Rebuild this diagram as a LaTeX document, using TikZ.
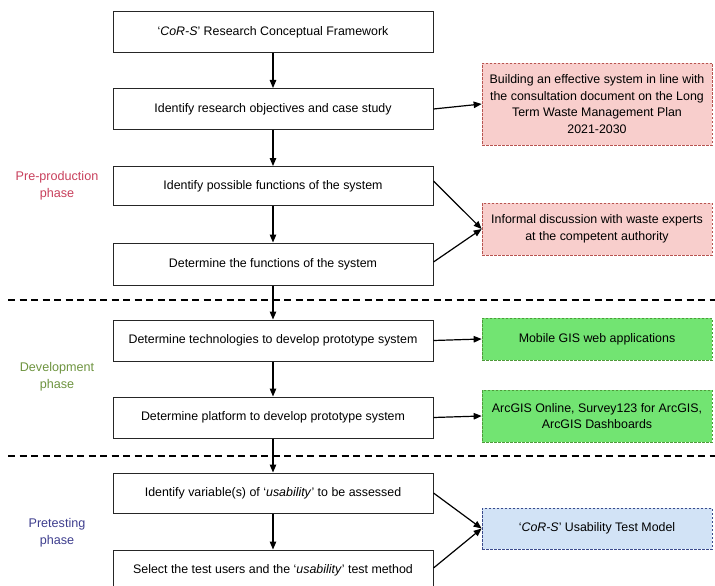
\documentclass[tikz,border=0pt]{standalone}
\usepackage{fontspec}
\setmainfont{Liberation Sans}
\usetikzlibrary{arrows.meta}
\definecolor{pinkfill}{HTML}{F8CECC}
\definecolor{pinkline}{HTML}{B85450}
\definecolor{greenfill}{HTML}{72E472}
\definecolor{greenline}{HTML}{4E9A3A}
\definecolor{bluefill}{HTML}{D2E3F6}
\definecolor{blueline}{HTML}{3A4A8C}
\definecolor{prephase}{HTML}{C8405C}
\definecolor{devphase}{HTML}{6E9440}
\definecolor{testphase}{HTML}{3E3E8E}
\tikzset{
  stepbox/.style={draw=black!85, line width=1pt, minimum width=320pt, minimum height=41pt,
    inner sep=0pt, font=\fontsize{12.4}{15}\selectfont},
  notebox/.style={dashed, dash pattern=on 2.5pt off 1.5pt, line width=0.7pt, minimum width=230pt,
    inner sep=0pt, align=center, font=\fontsize{12.4}{16.5}\selectfont},
  pinknote/.style={notebox, draw=pinkline, fill=pinkfill},
  greennote/.style={notebox, draw=greenline, fill=greenfill},
  bluenote/.style={notebox, draw=blueline, fill=bluefill},
  phaselabel/.style={align=center, font=\fontsize{12.6}{17}\selectfont},
  flow/.style={line width=1.2pt, -{Triangle[length=8pt,width=6.5pt]}},
  divider/.style={line width=1.3pt, dash pattern=on 7pt off 4.5pt}
}
\begin{document}
\begin{tikzpicture}[x=1pt, y=-1pt]
\useasboundingbox (0,0) rectangle (715,586);
\clip (0,0) rectangle (715,586);

% main sequence of steps
\node[stepbox] (b1) at (273,32.5) {‘\textit{CoR-S}’ Research Conceptual Framework};
\node[stepbox] (b2) at (273,109) {Identify research objectives and case study};
\node[stepbox, minimum height=39pt] (b3) at (273,186) {Identify possible functions of the system};
\node[stepbox, minimum height=42pt] (b4) at (273,264) {Determine the functions of the system};
\node[stepbox] (b5) at (273,340.5) {Determine technologies to develop prototype system};
\node[stepbox] (b6) at (273,417.5) {Determine platform to develop prototype system};
\node[stepbox, minimum height=40pt] (b7) at (273,493) {Identify variable(s) of ‘\textit{usability}’ to be assessed};
\node[stepbox, minimum height=40pt, text depth=0pt] (b8) at (273,570) {\raisebox{2pt}{Select the test users and the ‘\textit{usability}’ test method}};

% side notes
\node[pinknote, minimum height=82pt] (p1) at (597,104)
  {Building an effective system in line with\\the consultation document on the Long\\Term Waste Management Plan\\2021-2030};
\node[pinknote, minimum height=52pt] (p2) at (597,229)
  {Informal discussion with waste experts\\at the competent authority};
\node[greennote, minimum height=42pt] (g1) at (597,339) {Mobile GIS web applications};
\node[greennote, minimum height=52pt] (g2) at (597,416)
  {ArcGIS Online, Survey123 for ArcGIS,\\ArcGIS Dashboards};
\node[bluenote, minimum height=41pt] (u1) at (597,528.5) {‘\textit{CoR-S}’ Usability Test Model};

% phase labels
\node[phaselabel, text=prephase] (ph1) at (57,186) {Pre-production\\phase};
\node[phaselabel, text=devphase] (ph2) at (57,377) {Development\\phase};
\node[phaselabel, text=testphase] (ph3) at (57,533) {Pretesting\\phase};

% phase dividers
\coordinate (d1l) at (8,300);
\coordinate (d1r) at (715,300);
\coordinate (d2l) at (8,456);
\coordinate (d2r) at (715,456);
\draw[divider] (d1l) -- (d1r);
\draw[divider] (d2l) -- (d2r);

% step connectors
\draw[flow] (b1) -- (b2);
\draw[flow] (b2) -- (b3);
\draw[flow] (b3) -- (b4);
\draw[flow] (b4) -- (b5);
\draw[flow] (b5) -- (b6);
\draw[flow] (b6) -- (b7);
\draw[flow] (b7) -- (b8);

% connectors to notes
\draw[flow] (b2.east) -- (p1.west);
\draw[flow] ([yshift=5pt]b3.east) -- (p2.west);
\draw[flow] ([yshift=2pt]b4.east) -- (p2.west);
\draw[flow] (b5.east) -- (g1.west);
\draw[flow] (b6.east) -- (g2.west);
\draw[flow] (b7.east) -- (u1.west);
\draw[flow] ([yshift=2pt]b8.east) -- (u1.west);
\end{tikzpicture}
\end{document}
